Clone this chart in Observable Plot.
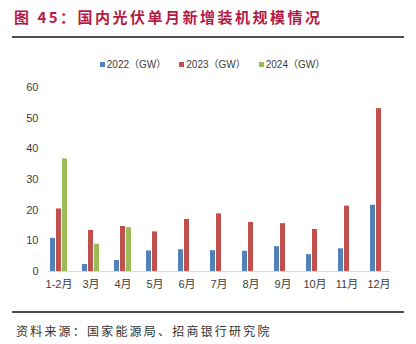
<!DOCTYPE html>
<html><head><meta charset="utf-8">
<script src="https://cdn.jsdelivr.net/npm/d3@7"></script>
<script src="https://cdn.jsdelivr.net/npm/@observablehq/plot@0.6"></script>
<style>
body{margin:0;width:416px;height:344px;background:#fff;position:relative;overflow:hidden;font-family:"Noto Sans CJK SC",sans-serif;}
#title{position:absolute;left:14px;top:6px;font-size:15px;line-height:22px;font-weight:bold;color:#b31b45;letter-spacing:2.5px;white-space:nowrap;}
.hr{position:absolute;left:12px;width:392px;height:2px;background:#4d4d4d;}
#legend{position:absolute;top:58px;left:0;width:416px;box-sizing:border-box;padding-left:9px;text-align:center;font-size:10px;line-height:14px;color:#404040;white-space:nowrap;font-family:"Liberation Sans","Noto Sans CJK SC",sans-serif;}
#legend span.item{margin:0 6.5px;}
#legend span.sw{display:inline-block;width:5px;height:5px;margin-right:2px;vertical-align:1px;}
#chart{position:absolute;left:0;top:70px;}
#source{position:absolute;left:16px;top:322px;font-size:12px;line-height:17px;color:#333;letter-spacing:2.2px;white-space:nowrap;}
</style></head>
<body>
<div id="title">图 45：国内光伏单月新增装机规模情况</div>
<div class="hr" style="top:36px"></div>
<div id="legend"></div>
<div id="chart"></div>
<div class="hr" style="top:311px"></div>
<div id="source">资料来源：国家能源局、招商银行研究院</div>
<script>
const months = ["1-2月","3月","4月","5月","6月","7月","8月","9月","10月","11月","12月"];
const series = ["2022（GW）","2023（GW）","2024（GW）"];
const colors = ["#4f81bd","#c0504d","#9bbb59"];
const v2022 = [10.8,2.3,3.6,6.7,7.1,6.8,6.6,8.1,5.5,7.4,21.6];
const v2023 = [20.4,13.4,14.7,12.9,17.0,18.8,16.0,15.6,13.7,21.3,53.1];
const v2024 = [36.7,8.9,14.3];
const yTicks = [0,10,20,30,40,50,60];

const values = [v2022, v2023, v2024];
const data = [];
values.forEach((arr, si) => arr.forEach((v, mi) => data.push({month: months[mi], series: series[si], value: v})));

const legend = document.getElementById("legend");
series.forEach((s, i) => {
  const item = document.createElement("span");
  item.className = "item";
  item.innerHTML = `<span class="sw" style="background:${colors[i]}"></span>${s}`;
  legend.appendChild(item);
});

const chart = Plot.plot({
  width: 416,
  height: 230,
  marginTop: 17,
  marginBottom: 29,
  marginLeft: 42,
  marginRight: 21,
  style: {fontSize: "11px", color: "#404040", fontFamily: "'Liberation Sans','Noto Sans CJK SC',sans-serif", background: "transparent"},
  fx: {domain: months, paddingInner: 0.34, paddingOuter: 0.17, label: null, tickSize: 0, tickPadding: 9},
  x: {domain: series, padding: 0.2, axis: null},
  y: {domain: [0, 60], ticks: yTicks, label: null, tickSize: 0, tickPadding: 10},
  color: {domain: series, range: colors},
  marks: [
    Plot.frame({anchor: "bottom", stroke: "#d9d9d9", facet: "super"}),
    Plot.barY(data, {fx: "month", x: "series", y: "value", fill: "series", inset: 0})
  ]
});
document.getElementById("chart").appendChild(chart);
</script>
</body></html>
